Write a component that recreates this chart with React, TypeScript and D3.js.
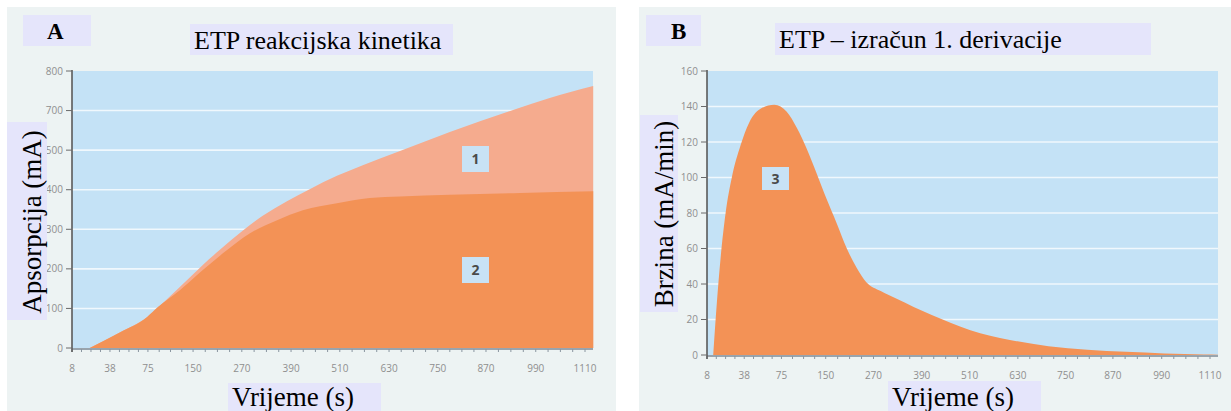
import React from 'react';
import * as d3 from 'd3';

// ---- data ----
const xTicks = [8, 38, 75, 150, 270, 390, 510, 630, 750, 870, 990, 1110];
// relative spacing of the (uneven) tick labels along the axis
const xTickFrac = [0, 0.074, 0.148, 0.236, 0.331, 0.427, 0.522, 0.618, 0.713, 0.807, 0.904, 1];

const yTicksA = [0, 100, 200, 300, 400, 500, 700, 800];
const yTicksB = [0, 20, 40, 60, 80, 100, 120, 140, 160];

// Curve 1 (total absorbance)
const curve1T = [22, 48, 74, 100, 128, 174, 216, 272, 321, 380, 437, 503, 566, 657, 780, 937, 1024, 1130];
const curve1V = [0, 40, 78, 114, 154, 210, 248, 296, 334, 371, 402, 435, 462, 498, 592, 702, 732, 762];

// Curve 2 (thrombin)
const curve2T = [22, 48, 74, 92, 128, 174, 233, 290, 356, 419, 503, 583, 657, 780, 952, 1130];
const curve2V = [0, 40, 78, 104, 146, 197, 247, 290, 323, 348, 366, 379, 383, 387, 392, 396];

// Curve 3 (1st derivative)
const curve3T = [13, 16, 19, 23, 28, 35, 43, 55, 68, 84, 101, 118, 135, 152, 178, 203, 228, 252, 288, 325, 415, 512, 610, 707, 805, 902, 997, 1095, 1130];
const curve3V = [0, 30, 55, 80, 100, 118, 131, 139, 141, 137, 128, 116, 102, 88, 74, 60, 49, 41, 36, 32, 22.5, 14, 8.5, 5, 3, 1.8, 0.9, 0.3, 0.2];

const C = {
  page: '#edf3f3',
  plot: '#c4e2f6',
  dark: '#f39256',
  light: '#f5ab8e',
  box: '#e5e5fb',
  tag: '#c8e2f5',
  tick: '#8f8f8f',
};

const serif = '"Liberation Serif", "Times New Roman", serif';
const sans = '"Open Sans", "Liberation Sans", sans-serif';

type Box = [number, number, number, number];
type PanelProps = {
  left: number; top: number; width: number; height: number;
  axisX: number; axisRight: number; plotTop: number; plotBottom: number;
  tickSpan: number;
  yTicks: number[];
  series: { t: number[]; v: number[]; color: string }[];
  letter: string; letterBox: Box; letterX: number;
  title: string; titleBox: Box;
  yLabel: string; yLabelBox: Box; yLabelX: number; yLabelY: number;
  xLabelBox: Box; xLabelY: number;
  tags: { text: string; box: Box }[];
};

function Panel(p: PanelProps) {
  const x = d3.scaleLinear()
    .domain(xTicks)
    .range(xTickFrac.map(f => p.axisX + f * p.tickSpan));
  const step = (p.plotBottom - p.plotTop) / (p.yTicks.length - 1);
  const y = d3.scaleLinear()
    .domain(p.yTicks)
    .range(p.yTicks.map((_, i) => p.plotBottom - i * step));

  const area = d3.area<[number, number]>()
    .x(d => x(d[0]))
    .y0(p.plotBottom)
    .y1(d => y(d[1]))
    .curve(d3.curveMonotoneX);

  const minor: number[] = [];
  for (let i = 0; i < xTicks.length - 1; i++) {
    const a = x(xTicks[i]), b = x(xTicks[i + 1]);
    for (let k = 0; k < 4; k++) minor.push(a + (k / 4) * (b - a));
  }
  minor.push(x(xTicks[xTicks.length - 1]));

  return (
    <g>
      <rect x={p.left} y={p.top} width={p.width} height={p.height} fill={C.page} />
      <rect x={p.axisX} y={p.plotTop} width={p.axisRight - p.axisX} height={p.plotBottom - p.plotTop} fill={C.plot} />
      {p.yTicks.slice(1, -1).map((t, i) => (
        <line key={i} x1={p.axisX} x2={p.axisRight} y1={y(t)} y2={y(t)} stroke="#ffffff" strokeOpacity={0.75} strokeWidth={1.6} />
      ))}
      {p.series.map((s, i) => (
        <path key={i} d={area(s.t.map((t, j) => [t, s.v[j]] as [number, number])) || ''} fill={s.color} />
      ))}
      {/* x axis */}
      <line x1={p.axisX} x2={p.axisRight} y1={p.plotBottom + 1} y2={p.plotBottom + 1} stroke="#7d8a96" strokeWidth={1.5} />
      {minor.map((m, i) => (
        <line key={i} x1={m} x2={m} y1={p.plotBottom + 1} y2={p.plotBottom + 4} stroke="#8a96a0" strokeWidth={1} />
      ))}
      {xTicks.map((t, i) => (
        <text key={i} x={x(t)} y={p.plotBottom + 24} textAnchor="middle" fontFamily={sans} fontSize={10} fill={C.tick}>{t}</text>
      ))}
      {/* y axis */}
      <line x1={p.axisX} x2={p.axisX} y1={p.plotTop - 1} y2={p.plotBottom + 4} stroke="#5a5a5a" strokeWidth={1.6} />
      {p.yTicks.map((t, i) => (
        <g key={i}>
          <line x1={p.axisX - 6} x2={p.axisX} y1={y(t)} y2={y(t)} stroke="#6a6a6a" strokeWidth={1} />
          <text x={p.axisX - 9} y={y(t) + 3.5} textAnchor="end" fontFamily={sans} fontSize={10} fill={C.tick}>{t}</text>
        </g>
      ))}
      {/* tags */}
      {p.tags.map((tg, i) => (
        <g key={i}>
          <rect x={tg.box[0]} y={tg.box[1]} width={tg.box[2]} height={tg.box[3]} fill={C.tag} />
          <text x={tg.box[0] + tg.box[2] / 2} y={tg.box[1] + tg.box[3] / 2 + 5} textAnchor="middle" fontFamily={sans} fontWeight="bold" fontSize={14} fill="#4a4a4a">{tg.text}</text>
        </g>
      ))}
      {/* letter */}
      <rect x={p.letterBox[0]} y={p.letterBox[1]} width={p.letterBox[2]} height={p.letterBox[3]} fill={C.box} />
      <text x={p.letterX} y={p.letterBox[1] + 24} fontFamily={serif} fontWeight="bold" fontSize={23} fill="#000">{p.letter}</text>
      {/* title */}
      <rect x={p.titleBox[0]} y={p.titleBox[1]} width={p.titleBox[2]} height={p.titleBox[3]} fill={C.box} />
      <text x={p.titleBox[0] + 4} y={p.titleBox[1] + 25} fontFamily={serif} fontSize={26} fill="#000">{p.title}</text>
      {/* y label */}
      <rect x={p.yLabelBox[0]} y={p.yLabelBox[1]} width={p.yLabelBox[2]} height={p.yLabelBox[3]} fill={C.box} />
      <text transform={`translate(${p.yLabelX},${p.yLabelY}) rotate(-90)`} textAnchor="middle" fontFamily={serif} fontSize={27} fill="#000">{p.yLabel}</text>
      {/* x label */}
      <rect x={p.xLabelBox[0]} y={p.xLabelBox[1]} width={p.xLabelBox[2]} height={p.xLabelBox[3]} fill={C.box} />
      <text x={p.xLabelBox[0] + 4} y={p.xLabelY} fontFamily={serif} fontSize={27} fill="#000">Vrijeme (s)</text>
    </g>
  );
}

export default function App() {
  return (
    <svg width={1231} height={411} style={{ position: 'absolute', left: 0, top: 0, background: '#ffffff' }}>
      <Panel
        left={7} top={7} width={609} height={404}
        axisX={72} axisRight={593} plotTop={71} plotBottom={348} tickSpan={513}
        yTicks={yTicksA}
        series={[
          { t: curve1T, v: curve1V, color: C.light },
          { t: curve2T, v: curve2V, color: C.dark },
        ]}
        letter="A" letterBox={[23, 15, 68, 31]} letterX={47}
        title="ETP reakcijska kinetika" titleBox={[190, 24, 263, 31]}
        yLabel="Apsorpcija (mA)" yLabelBox={[7, 122, 40, 198]} yLabelX={41} yLabelY={222}
        xLabelBox={[228, 383, 153, 28]} xLabelY={406}
        tags={[
          { text: '1', box: [462, 146, 27, 26] },
          { text: '2', box: [462, 257, 27, 26] },
        ]}
      />
      <Panel
        left={639} top={7} width={592} height={404}
        axisX={707} axisRight={1218} plotTop={71} plotBottom={355} tickSpan={503}
        yTicks={yTicksB}
        series={[{ t: curve3T, v: curve3V, color: C.dark }]}
        letter="B" letterBox={[646, 15, 55, 31]} letterX={671}
        title="ETP – izračun 1. derivacije" titleBox={[775, 23, 376, 32]}
        yLabel="Brzina (mA/min)" yLabelBox={[640, 115, 38, 197]} yLabelX={673} yLabelY={214}
        xLabelBox={[888, 381, 153, 30]} xLabelY={406}
        tags={[{ text: '3', box: [762, 167, 27, 23] }]}
      />
    </svg>
  );
}
